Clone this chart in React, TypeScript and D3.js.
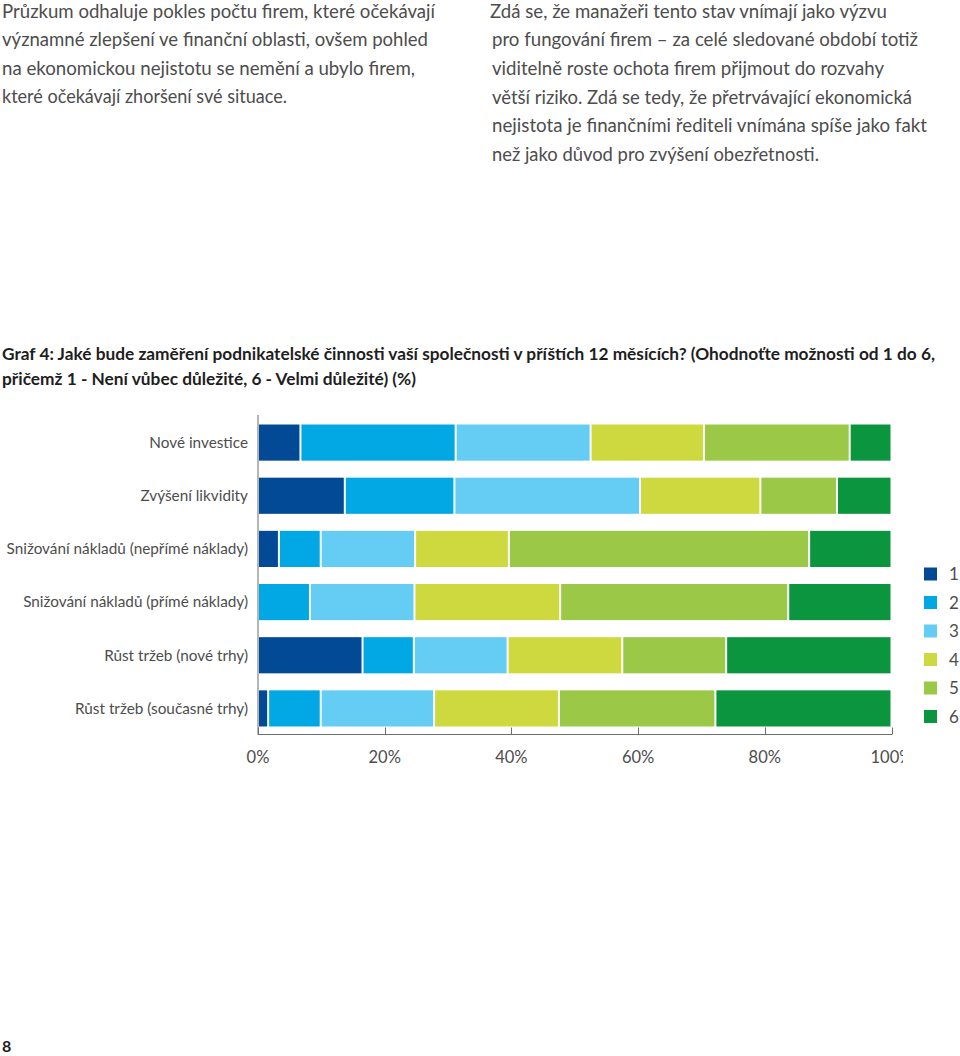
import React from "react";
import * as d3 from "d3";

const leftParagraph = [
  "Průzkum odhaluje pokles počtu firem, které očekávají",
  "významné zlepšení ve finanční oblasti, ovšem pohled",
  "na ekonomickou nejistotu se nemění a ubylo firem,",
  "které očekávají zhoršení své situace.",
];
const leftWidths = [433, 426, 413, 285];

const rightParagraph = [
  "Zdá se, že manažeři tento stav vnímají jako výzvu",
  "pro fungování firem – za celé sledované období totiž",
  "viditelně roste ochota firem přijmout do rozvahy",
  "větší riziko. Zdá se tedy, že přetrvávající ekonomická",
  "nejistota je finančními řediteli vnímána spíše jako fakt",
  "než jako důvod pro zvýšení obezřetnosti.",
];
const rightWidths = [397, 426, 392, 420, 435, 327];

const titleLines = [
  "Graf 4: Jaké bude zaměření podnikatelské činnosti vaší společnosti v příštích 12 měsících? (Ohodnoťte možnosti od 1 do 6,",
  "přičemž 1 - Není vůbec důležité, 6 - Velmi důležité) (%)",
];
const titleWidths = [933, 414];

const categories = [
  "Nové investice",
  "Zvýšení likvidity",
  "Snižování nákladů (nepřímé náklady)",
  "Snižování nákladů (přímé náklady)",
  "Růst tržeb (nové trhy)",
  "Růst tržeb (současné trhy)",
];

const scoreKeys = ["1", "2", "3", "4", "5", "6"];
const score1 = [6.7, 13.7, 3.3, 0, 16.5, 1.6];
const score2 = [24.5, 17.3, 6.6, 8.2, 8.1, 8.3];
const score3 = [21.3, 29.3, 14.9, 16.5, 14.8, 17.9];
const score4 = [17.9, 19.0, 14.8, 23.0, 18.1, 19.7];
const score5 = [23.0, 12.1, 47.4, 36.0, 16.4, 24.7];
const score6 = [6.6, 8.6, 13.0, 16.3, 26.1, 27.8];
const scoreColors = ["#034a96", "#02a8e4", "#65cdf4", "#cdd93e", "#9cc847", "#0b953e"];

const xTicks = [0, 20, 40, 60, 80, 100];

const rows = categories.map((c, i) => ({
  category: c,
  "1": score1[i],
  "2": score2[i],
  "3": score3[i],
  "4": score4[i],
  "5": score5[i],
  "6": score6[i],
}));

export default function App() {
  const x = d3.scaleLinear().domain([0, 100]).range([258, 891.5]);
  const y = d3
    .scaleBand<string>()
    .domain(categories)
    .range([416, 735])
    .paddingInner(0.32)
    .paddingOuter(0.16);
  const color = d3.scaleOrdinal<string, string>().domain(scoreKeys).range(scoreColors);
  const stacked = d3.stack<any>().keys(scoreKeys)(rows);
  const legendY = d3.scalePoint<string>().domain(scoreKeys).range([574, 716.5]);

  const textColor = "#4d4d4d";
  const bodyFont = "Lato, 'Open Sans', sans-serif";

  return (
    <svg
      width={960}
      height={1056}
      style={{ position: "absolute", left: 0, top: 0, background: "#fff" }}
      fontFamily={bodyFont}
    >
      <defs>
        <clipPath id="tickclip">
          <rect x={0} y={740} width={903} height={40} />
        </clipPath>
      </defs>
      <rect x={0} y={0} width={960} height={1056} fill="#fff" />

      {leftParagraph.map((t, i) => (
        <text
          key={"l" + i}
          x={2}
          y={17.5 + i * 28.5}
          fontSize={18.5}
          fontWeight={400}
          fill={textColor}
          textLength={leftWidths[i]}
          lengthAdjust="spacingAndGlyphs"
        >
          {t}
        </text>
      ))}
      {rightParagraph.map((t, i) => (
        <text
          key={"r" + i}
          x={i === 0 ? 490 : 492}
          y={17.5 + i * 28.7}
          fontSize={18.5}
          fontWeight={400}
          fill={textColor}
          textLength={rightWidths[i]}
          lengthAdjust="spacingAndGlyphs"
        >
          {t}
        </text>
      ))}

      {titleLines.map((t, i) => (
        <text
          key={"t" + i}
          x={2}
          y={360 + i * 25}
          fontSize={17}
          fontWeight={700}
          fill="#1e1e1e"
          textLength={titleWidths[i]}
          lengthAdjust="spacingAndGlyphs"
        >
          {t}
        </text>
      ))}

      {/* bars */}
      {stacked.map((layer) => (
        <g key={layer.key} fill={color(layer.key)}>
          {layer.map((seg, i) => {
            const w = x(seg[1]) - x(seg[0]) - 2;
            if (w <= 0) return null;
            return (
              <rect
                key={i}
                x={x(seg[0]) + 1}
                y={y(categories[i])}
                width={w}
                height={y.bandwidth()}
              />
            );
          })}
        </g>
      ))}

      {/* category labels */}
      {categories.map((c) => (
        <text
          key={c}
          x={248}
          y={(y(c) as number) + y.bandwidth() / 2}
          dy="0.35em"
          textAnchor="end"
          fontSize={15.3}
          fontWeight={400}
          fill={textColor}
        >
          {c}
        </text>
      ))}

      {/* axes */}
      <line x1={258} x2={258} y1={415} y2={734.5} stroke="#6d6d6d" strokeWidth={1} />
      <line x1={258} x2={x(100) + 0.5} y1={734.5} y2={734.5} stroke="#6d6d6d" strokeWidth={1} />
      {xTicks.map((t) => (
        <line
          key={"tk" + t}
          x1={Math.round(x(t)) + 0.5}
          x2={Math.round(x(t)) + 0.5}
          y1={727.5}
          y2={734.5}
          stroke="#6d6d6d"
          strokeWidth={1}
        />
      ))}
      <g clipPath="url(#tickclip)">
        {xTicks.map((t) => (
          <text
            key={"tl" + t}
            x={x(t)}
            y={763}
            textAnchor="middle"
            fontSize={16.5}
            fontWeight={400}
            fill={textColor}
          >
            {t + "%"}
          </text>
        ))}
      </g>

      {/* legend */}
      {scoreKeys.map((k) => (
        <g key={"lg" + k}>
          <rect
            x={924}
            y={(legendY(k) as number) - 6.5}
            width={13}
            height={13}
            fill={color(k)}
          />
          <text
            x={949}
            y={legendY(k) as number}
            dy="0.36em"
            fontSize={17}
            fontWeight={400}
            fill={textColor}
          >
            {k}
          </text>
        </g>
      ))}

      <text x={2} y={1052} fontSize={16} fontWeight={700} fill="#1e1e1e">
        8
      </text>
    </svg>
  );
}
